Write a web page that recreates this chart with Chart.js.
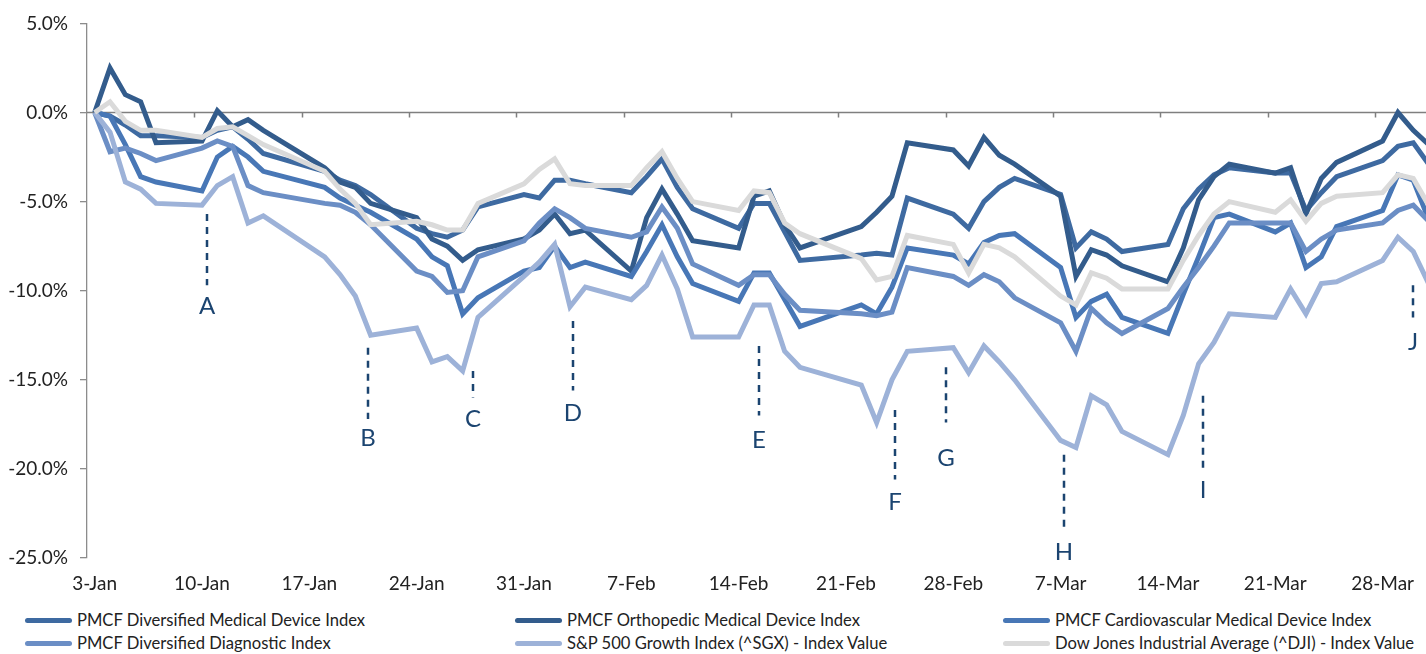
<!DOCTYPE html>
<html>
<head>
<meta charset="utf-8">
<script src="https://cdn.jsdelivr.net/npm/chart.js@4.4.1/dist/chart.umd.min.js"></script>
<style>
  html, body { margin: 0; padding: 0; background: #fff; overflow: hidden; }
  #wrap { position: relative; width: 1426px; height: 654px; }
  #chart { position: absolute; left: 0; top: 0; }
  #legend { position: absolute; left: 0; top: 610px; width: 1426px; font-family: Lato, sans-serif; font-size: 16.6px; color: #222; }
  .item { position: absolute; display: flex; align-items: center; white-space: nowrap; }
  .sw { width: 47px; height: 5px; border-radius: 3px; margin-right: 5px; }
</style>
</head>
<body>
<div id="wrap">
  <canvas id="chart" width="1426" height="600"></canvas>
  <div id="legend"></div>
</div>
<script>
// trading days, Q1 2022
const dates = [
  '2022-01-03','2022-01-04','2022-01-05','2022-01-06','2022-01-07',
  '2022-01-10','2022-01-11','2022-01-12','2022-01-13','2022-01-14',
  '2022-01-18','2022-01-19','2022-01-20','2022-01-21',
  '2022-01-24','2022-01-25','2022-01-26','2022-01-27','2022-01-28',
  '2022-01-31',
  '2022-02-01','2022-02-02','2022-02-03','2022-02-04',
  '2022-02-07','2022-02-08','2022-02-09','2022-02-10','2022-02-11',
  '2022-02-14','2022-02-15','2022-02-16','2022-02-17','2022-02-18',
  '2022-02-22','2022-02-23','2022-02-24','2022-02-25',
  '2022-02-28',
  '2022-03-01','2022-03-02','2022-03-03','2022-03-04',
  '2022-03-07','2022-03-08','2022-03-09','2022-03-10','2022-03-11',
  '2022-03-14','2022-03-15','2022-03-16','2022-03-17','2022-03-18',
  '2022-03-21','2022-03-22','2022-03-23','2022-03-24','2022-03-25',
  '2022-03-28','2022-03-29','2022-03-30','2022-03-31'
];

// % change since 3-Jan
const divMedDevice = [0,-0.2,-0.7,-1.3,-1.3, -1.4,-1.0,-0.8,-1.5,-2.3, -3.3,-3.8,-4.1,-4.6, -6.5,-6.8,-7.0,-6.6,-5.3, -4.6,
  -4.8,-3.8,-3.8,-4.0, -4.5,-3.6,-2.6,-4.2,-5.4, -6.5,-5.1,-5.1,-6.7,-8.3, -8.0,-7.9,-8.0,-4.8, -5.7,
  -6.5,-5.0,-4.2,-3.7, -4.6,-7.6,-6.7,-7.1,-7.8, -7.4,-5.4,-4.3,-3.5,-3.1, -3.4,-3.4,-5.5,-4.5,-3.6, -2.7,-1.9,-1.7,-2.9];
const orthoMedDevice = [0,2.5,1.0,0.6,-1.7, -1.6,0.1,-0.8,-0.4,-1.0, -3.1,-3.9,-4.2,-5.1, -5.9,-7.1,-7.5,-8.3,-7.7, -7.1,
  -6.6,-5.7,-6.8,-6.6, -8.9,-5.9,-4.3,-5.7,-7.2, -7.6,-4.7,-4.4,-6.3,-7.6, -6.4,-5.6,-4.7,-1.7, -2.1,
  -3.0,-1.4,-2.4,-2.9, -4.7,-9.2,-7.7,-8.0,-8.6, -9.5,-7.6,-4.9,-3.6,-2.9, -3.4,-3.1,-5.7,-3.7,-2.8, -1.6,0.0,-1.0,-1.8];
const cardioMedDevice = [0,-0.2,-1.8,-3.6,-3.9, -4.4,-2.5,-1.9,-2.5,-3.3, -4.2,-4.8,-5.2,-5.6, -7.1,-8.1,-8.6,-11.3,-10.4, -8.9,
  -8.7,-7.5,-8.7,-8.4, -9.2,-7.8,-6.3,-8.1,-9.6, -10.6,-9.0,-9.0,-10.5,-12.0, -10.8,-11.3,-9.8,-7.6, -8.0,
  -8.5,-7.3,-6.9,-6.8, -8.7,-11.5,-10.6,-10.2,-11.5, -12.4,-10.2,-8.1,-5.9,-5.7, -6.7,-6.2,-8.7,-8.1,-6.4, -5.5,-3.5,-3.8,-6.0];
const divDiagnostic = [0,-2.2,-2.0,-2.3,-2.7, -2.0,-1.6,-1.9,-4.1,-4.5, -5.1,-5.2,-5.6,-6.3, -8.9,-9.2,-10.1,-10.0,-8.1, -7.2,
  -6.2,-5.4,-5.9,-6.5, -7.0,-6.7,-5.3,-6.5,-8.5, -9.7,-9.1,-9.1,-10.2,-11.1, -11.3,-11.4,-11.2,-8.7, -9.2,
  -9.7,-9.1,-9.5,-10.4, -11.8,-13.4,-11.0,-11.8,-12.4, -11.0,-9.8,-8.7,-7.5,-6.2, -6.2,-6.2,-7.8,-7.1,-6.6, -6.2,-5.5,-5.2,-6.1];
const sp500Growth = [0,-1.1,-3.9,-4.3,-5.1, -5.2,-4.1,-3.6,-6.2,-5.8, -8.1,-9.1,-10.3,-12.5, -12.1,-14.0,-13.7,-14.5,-11.5, -9.2,
  -8.4,-7.4,-10.9,-9.8, -10.5,-9.7,-8.0,-9.9,-12.6, -12.6,-10.8,-10.8,-13.4,-14.3, -15.3,-17.4,-15.0,-13.4, -13.2,
  -14.6,-13.1,-14.0,-15.0, -18.4,-18.8,-15.9,-16.4,-17.9, -19.2,-17.0,-14.1,-12.9,-11.3, -11.5,-9.9,-11.3,-9.6,-9.5, -8.3,-7.0,-7.8,-9.6];
const dowJones = [0,0.6,-0.5,-1.0,-1.0, -1.4,-0.9,-0.8,-1.3,-1.8, -3.3,-4.3,-5.1,-6.3, -6.1,-6.3,-6.6,-6.6,-5.1, -4.0,
  -3.2,-2.6,-4.0,-4.1, -4.1,-3.1,-2.2,-3.7,-5.0, -5.5,-4.4,-4.5,-6.2,-6.8, -8.2,-9.4,-9.2,-6.9, -7.4,
  -9.0,-7.4,-7.6,-8.1, -10.3,-10.8,-9.0,-9.3,-9.9, -9.9,-8.3,-6.9,-5.7,-5.0, -5.6,-4.9,-6.1,-5.1,-4.7, -4.5,-3.5,-3.7,-5.2];

const seriesNames = [
  'PMCF Diversified Medical Device Index',
  'PMCF Orthopedic Medical Device Index',
  'PMCF Cardiovascular Medical Device Index',
  'PMCF Diversified Diagnostic Index',
  'S&P 500 Growth Index (^SGX) - Index Value',
  'Dow Jones Industrial Average (^DJI) - Index Value'
];
const seriesValues = [divMedDevice, orthoMedDevice, cardioMedDevice, divDiagnostic, sp500Growth, dowJones];
const seriesColors = ['#3E6AA1', '#335C8C', '#4877B6', '#6B8EC5', '#9DB2D8', '#DADADA'];

// event markers: letter, day (from 3-Jan), dashed line top/bottom and label position in %
const markLetters = ['A','B','C','D','E','F','G','H','I','J'];
const markDays    = [7.3, 17.8, 24.7, 31.2, 43.3, 52.2, 55.5, 63.2, 72.3, 86.0];
const markTop     = [-5.7, -13.2, -14.5, -11.7, -13.1, -16.7, -14.3, -19.2, -15.9, -9.7];
const markBottom  = [-9.7, -17.2, -16.0, -15.6, -17.0, -20.6, -17.4, -23.3, -20.0, -11.5];
const markText    = [-10.9, -18.3, -17.2, -16.9, -18.4, -21.9, -19.4, -24.7, -21.2, -12.9];

const tickDays = [0, 7, 14, 21, 28, 35, 42, 49, 56, 63, 70, 77, 84];
const months = ['Jan','Feb','Mar','Apr','May','Jun','Jul','Aug','Sep','Oct','Nov','Dec'];

const start = Date.UTC(2022, 0, 3);
const dayOf = s => Math.round((Date.parse(s + 'T00:00:00Z') - start) / 86400000);
const dayLabel = d => {
  const dt = new Date(start + d * 86400000);
  return dt.getUTCDate() + '-' + months[dt.getUTCMonth()];
};

const datasets = seriesNames.map((name, i) => ({
  label: name,
  data: dates.map((s, j) => ({ x: dayOf(s), y: seriesValues[i][j] })),
  borderColor: seriesColors[i],
  backgroundColor: seriesColors[i],
  borderWidth: 5,
  pointRadius: 0,
  tension: 0,
  order: seriesNames.length - i   // later series drawn on top, like Excel
}));

// zero line with weekly tick marks (axis crosses at 0)
const zeroLine = {
  id: 'zeroLine',
  beforeDatasetsDraw(chart) {
    const { ctx, chartArea, scales: { x, y } } = chart;
    const y0 = Math.round(y.getPixelForValue(0)) + 0.5;
    ctx.save();
    ctx.strokeStyle = '#7f7f7f';
    ctx.lineWidth = 1.5;
    ctx.beginPath();
    ctx.moveTo(chartArea.left, y0);
    ctx.lineTo(chartArea.right, y0);
    for (let d = 6.5; d < x.max; d += 7) {
      const px = Math.round(x.getPixelForValue(d)) + 0.5;
      ctx.moveTo(px, y0);
      ctx.lineTo(px, y0 + 5);
    }
    ctx.stroke();
    ctx.restore();
  }
};

const markers = {
  id: 'markers',
  afterDatasetsDraw(chart) {
    const { ctx, scales: { x, y } } = chart;
    ctx.save();
    ctx.strokeStyle = '#1B4470';
    ctx.fillStyle = '#1B4470';
    ctx.lineWidth = 2.5;
    ctx.setLineDash([7, 6]);
    ctx.font = '24px Lato';
    ctx.textAlign = 'center';
    ctx.textBaseline = 'middle';
    markLetters.forEach((m, i) => {
      const px = Math.round(x.getPixelForValue(markDays[i]));
      ctx.beginPath();
      ctx.moveTo(px, y.getPixelForValue(markTop[i]));
      ctx.lineTo(px, y.getPixelForValue(markBottom[i]));
      ctx.stroke();
      ctx.fillText(m, px, y.getPixelForValue(markText[i]));
    });
    ctx.restore();
  }
};

const tickFont = { family: 'Lato', size: 19 };

new Chart(document.getElementById('chart'), {
  type: 'line',
  data: { datasets },
  options: {
    responsive: false,
    animation: false,
    layout: { padding: { top: 22, right: 0, left: 0, bottom: 0 } },
    plugins: { legend: { display: false }, tooltip: { enabled: false } },
    scales: {
      x: {
        type: 'linear',
        min: -0.5,
        max: 86.83,
        grid: { display: false },
        border: { display: false },
        afterBuildTicks: s => { s.ticks = tickDays.map(v => ({ value: v })); },
        afterFit: s => { s.height = 42; },
        ticks: { callback: v => dayLabel(v), font: tickFont, color: '#222', padding: 6, maxRotation: 0, autoSkip: false }
      },
      y: {
        min: -25,
        max: 5,
        afterFit: s => { s.width = 87; },
        grid: { drawOnChartArea: false, tickLength: 7, color: '#8c8c8c', lineWidth: 1.3 },
        border: { color: '#8c8c8c', width: 1.3 },
        ticks: { stepSize: 5, callback: v => v.toFixed(1) + '%', font: tickFont, color: '#222', padding: 12 }
      }
    }
  },
  plugins: [zeroLine, markers]
});

// legend in three columns, two rows
const legendX = [25, 515, 1003];
const legend = document.getElementById('legend');
seriesNames.forEach((name, i) => {
  const el = document.createElement('div');
  el.className = 'item';
  el.style.left = legendX[i % 3] + 'px';
  el.style.top = (Math.floor(i / 3) * 23) + 'px';
  const sw = document.createElement('span');
  sw.className = 'sw';
  sw.style.background = seriesColors[i];
  const tx = document.createElement('span');
  tx.textContent = name;
  el.appendChild(sw);
  el.appendChild(tx);
  legend.appendChild(el);
});
</script>
</body>
</html>
